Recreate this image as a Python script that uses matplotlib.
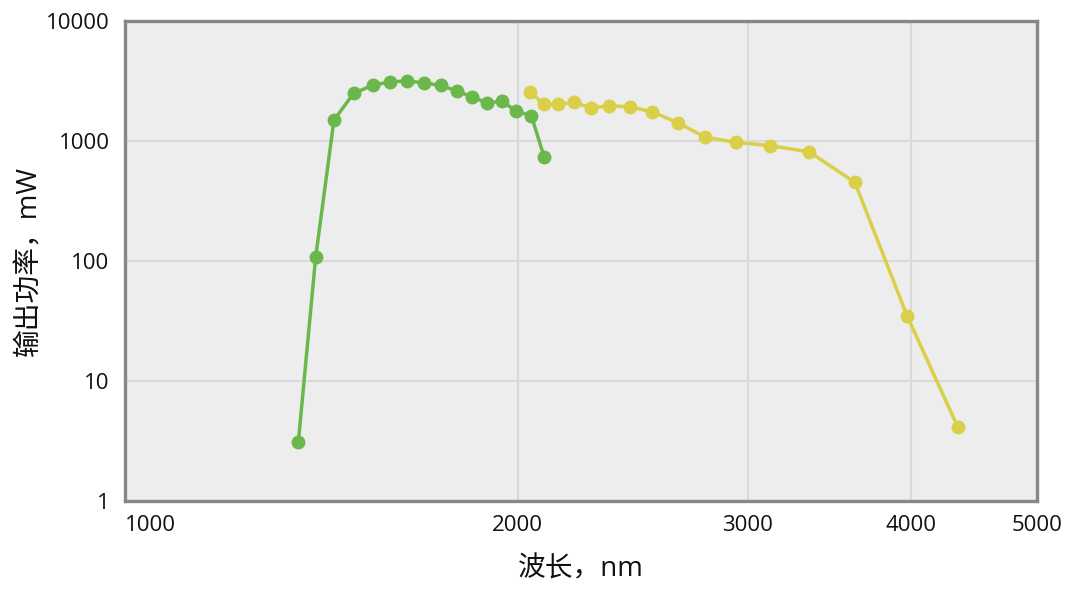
import matplotlib
matplotlib.use("Agg")
from matplotlib import pyplot as plt
from matplotlib.ticker import FixedLocator, NullLocator, FixedFormatter

plt.rcParams['font.family'] = ['Open Sans', 'Noto Sans CJK SC', 'DejaVu Sans']

# wavelength (nm) and output power (mW)
green_wl = [1358, 1400, 1446, 1497, 1548, 1596, 1644, 1695, 1746,
            1796, 1844, 1895, 1946, 1995, 2049, 2095]
green_pw = [3.12, 107, 1494, 2488, 2915, 3105, 3165, 3048, 2900,
            2615, 2333, 2080, 2135, 1775, 1612, 741]

yellow_wl = [2045, 2094, 2147, 2208, 2277, 2351, 2436, 2536, 2653,
             2785, 2937, 3121, 3346, 3626, 3977, 4347]
yellow_pw = [2566, 2017, 2017, 2095, 1890, 1963, 1927, 1750, 1419,
             1073, 975, 914, 811, 451, 34.6, 4.15]

x_ticks = [1000, 2000, 3000, 4000, 5000]
y_ticks = [1, 10, 100, 1000, 10000]

fig = plt.figure(figsize=(10.8, 5.99), dpi=100)
ax = fig.add_axes([0.1157, 0.1636, 0.8445, 0.8014])
ax.set_facecolor('#ededed')

ax.plot(green_wl, green_pw, '-o', color='#6ab84c', lw=2.5, ms=9, zorder=3)
ax.plot(yellow_wl, yellow_pw, '-o', color='#d9cf48', lw=2.5, ms=9, zorder=3)

ax.set_xscale('log')
ax.set_yscale('log')
ax.set_xlim(1000, 5000)
ax.set_ylim(1, 10000)

ax.xaxis.set_major_locator(FixedLocator(x_ticks))
ax.xaxis.set_major_formatter(FixedFormatter([str(v) for v in x_ticks]))
ax.xaxis.set_minor_locator(NullLocator())
ax.yaxis.set_major_locator(FixedLocator(y_ticks))
ax.yaxis.set_major_formatter(FixedFormatter([str(v) for v in y_ticks]))
ax.yaxis.set_minor_locator(NullLocator())

ax.grid(True, color='#d9d9d9', lw=1.5, zorder=0)
ax.tick_params(length=0, labelsize=16, colors='#111111')
ax.tick_params(axis='x', pad=10)
ax.tick_params(axis='y', pad=11)
ax.get_xticklabels()[0].set_horizontalalignment('left')

for s in ax.spines.values():
    s.set_color('#878787')
    s.set_linewidth(2.4)

ax.set_xlabel('波长，nm', fontsize=20, labelpad=14, color='#111111')
ax.set_ylabel('输出功率，mW', fontsize=20, labelpad=2, color='#111111')

fig.savefig('out.png', dpi=100)
